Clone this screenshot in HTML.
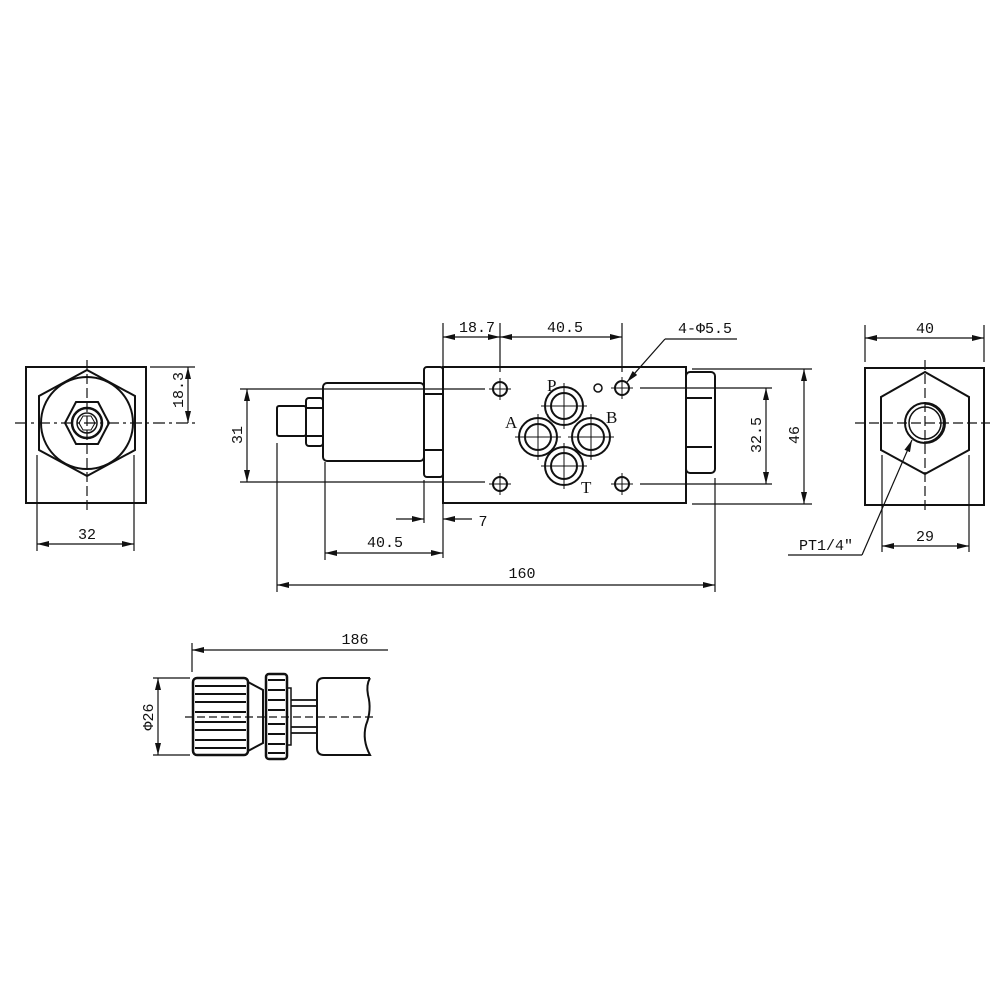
<!DOCTYPE html>
<html><head><meta charset="utf-8"><style>
html,body{margin:0;padding:0;background:#fff}
svg{display:block}
text{font-family:"Liberation Mono","DejaVu Sans Mono",monospace;font-size:15px;fill:#111}
</style></head><body>
<svg width="1000" height="1000" viewBox="0 0 1000 1000" xmlns="http://www.w3.org/2000/svg">
<defs>
<marker id="a" viewBox="0 0 12 6" refX="12" refY="3" markerWidth="12" markerHeight="6" orient="auto-start-reverse" markerUnits="userSpaceOnUse"><path d="M0,0L12,3L0,6z" fill="#111"/></marker>
</defs>
<g fill="none" stroke="#111" stroke-width="1.2">
<!-- LEFT VIEW -->
<rect x="26" y="367" width="120" height="136" stroke-width="2"/>
<polygon points="87,370 135,396 135,450 87,476 39,450 39,396" stroke-width="2"/>
<circle cx="87" cy="423" r="46" stroke-width="2"/>
<polygon points="76,402 98,402 109,423 98,444 76,444 65,423" stroke-width="2"/>
<circle cx="87" cy="423" r="15" stroke-width="2.5"/>
<circle cx="87" cy="423" r="10" stroke-width="1.5"/>
<polygon points="83,416 91,416 95,423 91,430 83,430 79,423" stroke-width="1"/>
<line x1="15" y1="423" x2="195" y2="423" stroke-dasharray="12,4,3,4"/>
<line x1="87" y1="360" x2="87" y2="510" stroke-dasharray="10,4"/>
<line x1="150" y1="367" x2="195" y2="367"/>
<line x1="188" y1="367" x2="188" y2="423" marker-start="url(#a)" marker-end="url(#a)"/>
<line x1="37" y1="455" x2="37" y2="551"/><line x1="134" y1="455" x2="134" y2="551"/>
<line x1="37" y1="544" x2="134" y2="544" marker-start="url(#a)" marker-end="url(#a)"/>

<!-- MAIN VIEW -->
<rect x="443" y="367" width="243" height="136" stroke-width="2"/>
<rect x="424" y="367" width="19" height="110" rx="3" stroke-width="2"/>
<line x1="424" y1="394" x2="443" y2="394" stroke-width="2"/><line x1="424" y1="450" x2="443" y2="450" stroke-width="2"/>
<rect x="323" y="383" width="101" height="78" rx="4" stroke-width="2"/>
<rect x="306" y="398" width="17" height="48" rx="3" stroke-width="2"/>
<line x1="306" y1="408" x2="323" y2="408" stroke-width="2"/><line x1="306" y1="436" x2="323" y2="436" stroke-width="2"/>
<rect x="277" y="406" width="29" height="30" rx="2" stroke-width="2"/>
<rect x="686" y="372" width="29" height="101" rx="4" stroke-width="2"/>
<line x1="686" y1="398" x2="712" y2="398" stroke-width="2"/><line x1="686" y1="447" x2="712" y2="447" stroke-width="2"/>
<!-- holes -->
<g stroke-width="2">
<circle cx="500" cy="389" r="7"/><circle cx="622" cy="388" r="7"/>
<circle cx="500" cy="484" r="7"/><circle cx="622" cy="484" r="7"/>
<circle cx="598" cy="388" r="4" stroke-width="1.5"/>
<circle cx="564" cy="406" r="19"/><circle cx="564" cy="406" r="13"/>
<circle cx="538" cy="437" r="19"/><circle cx="538" cy="437" r="13"/>
<circle cx="591" cy="437" r="19"/><circle cx="591" cy="437" r="13"/>
<circle cx="564" cy="466" r="19"/><circle cx="564" cy="466" r="13"/>
</g>
<g stroke-width="1">
<path d="M489,389h22M500,378v22M611,388h22M622,377v22M489,484h22M500,473v22M611,484h22M622,473v22"/>
<path d="M541,406h46M564,383v46M515,437h46M538,414v46M568,437h46M591,414v46M541,466h46M564,443v46"/>
</g>
<!-- dims -->
<line x1="443" y1="323" x2="443" y2="367"/><line x1="500" y1="323" x2="500" y2="372"/><line x1="622" y1="323" x2="622" y2="372"/>
<line x1="443" y1="337" x2="500" y2="337" marker-start="url(#a)" marker-end="url(#a)"/>
<line x1="500" y1="337" x2="622" y2="337" marker-start="url(#a)" marker-end="url(#a)"/>
<line x1="737" y1="339" x2="665" y2="339"/>
<line x1="665" y1="339" x2="627" y2="382" marker-end="url(#a)"/>
<line x1="240" y1="389" x2="485" y2="389"/><line x1="240" y1="482" x2="485" y2="482"/>
<line x1="247" y1="389" x2="247" y2="482" marker-start="url(#a)" marker-end="url(#a)"/>
<line x1="640" y1="388" x2="772" y2="388"/><line x1="640" y1="484" x2="772" y2="484"/>
<line x1="766" y1="388" x2="766" y2="484" marker-start="url(#a)" marker-end="url(#a)"/>
<line x1="692" y1="369" x2="812" y2="369"/><line x1="692" y1="504" x2="812" y2="504"/>
<line x1="804" y1="369" x2="804" y2="504" marker-start="url(#a)" marker-end="url(#a)"/>
<line x1="424" y1="480" x2="424" y2="523"/><line x1="443" y1="503" x2="443" y2="558"/>
<line x1="396" y1="519" x2="424" y2="519" marker-end="url(#a)"/>
<line x1="472" y1="519" x2="443" y2="519" marker-end="url(#a)"/>
<line x1="325" y1="462" x2="325" y2="560"/>
<line x1="325" y1="553" x2="443" y2="553" marker-start="url(#a)" marker-end="url(#a)"/>
<line x1="277" y1="443" x2="277" y2="592"/><line x1="715" y1="478" x2="715" y2="592"/>
<line x1="277" y1="585" x2="715" y2="585" marker-start="url(#a)" marker-end="url(#a)"/>

<!-- RIGHT VIEW -->
<rect x="865" y="368" width="119" height="137" stroke-width="2"/>
<polygon points="925,372 969,397 969,450 925,474 881,450 881,397" stroke-width="2"/>
<circle cx="925" cy="423" r="20" stroke-width="2"/>
<path d="M925,404 A19,19 0 1,1 924,442" stroke-width="1.3" transform="translate(0,0)"/>
<circle cx="925" cy="423" r="16" stroke-width="1.5"/>
<line x1="855" y1="423" x2="990" y2="423" stroke-dasharray="10,4"/>
<line x1="925" y1="360" x2="925" y2="510" stroke-dasharray="10,4"/>
<line x1="865" y1="325" x2="865" y2="362"/><line x1="984" y1="325" x2="984" y2="362"/>
<line x1="865" y1="338" x2="984" y2="338" marker-start="url(#a)" marker-end="url(#a)"/>
<line x1="882" y1="455" x2="882" y2="552"/><line x1="969" y1="455" x2="969" y2="552"/>
<line x1="882" y1="546" x2="969" y2="546" marker-start="url(#a)" marker-end="url(#a)"/>
<line x1="788" y1="555" x2="862" y2="555"/>
<line x1="862" y1="555" x2="912" y2="440" marker-end="url(#a)"/>

<!-- BOTTOM VIEW -->
<rect x="193" y="678" width="55" height="77" rx="4" stroke-width="2.5"/>
<g stroke-width="2">
<path d="M195,686h51M195,694h51M195,702h51M195,712h51M195,722h51M195,730h51M195,740h51M195,748h51"/>
</g>
<path d="M248,682 L263,690 L263,743 L248,751" stroke-width="2"/>
<rect x="266" y="674" width="21" height="85" rx="3" stroke-width="2.5"/>
<path d="M268,680h17M268,690h17M268,700h17M268,710h17M268,724h17M268,734h17M268,744h17M268,753h17" stroke-width="2"/>
<rect x="287" y="688" width="4" height="57" stroke-width="1.5"/>
<path d="M291,700h27M291,706h27M291,727h27M291,733h27" stroke-width="1.8"/>
<path d="M370,678 H324 Q317,678 317,685 V748 Q317,755 324,755 H370 Q362,740 366,725 Q372,710 368,695 Q366,685 370,678" stroke-width="2"/>
<line x1="185" y1="717" x2="376" y2="717" stroke-dasharray="8,4"/>
<line x1="192" y1="643" x2="192" y2="672"/>
<line x1="388" y1="650" x2="192" y2="650" marker-end="url(#a)"/>
<line x1="153" y1="678" x2="190" y2="678"/><line x1="153" y1="755" x2="190" y2="755"/>
<line x1="158" y1="678" x2="158" y2="755" marker-start="url(#a)" marker-end="url(#a)"/>
</g>
<g>
<text x="183" y="390" text-anchor="middle" transform="rotate(-90 183 390)">18.3</text>
<text x="87" y="539" text-anchor="middle">32</text>
<text x="477" y="332" text-anchor="middle">18.7</text>
<text x="565" y="332" text-anchor="middle">40.5</text>
<text x="705" y="333" text-anchor="middle">4-Φ5.5</text>
<text x="242" y="435" text-anchor="middle" transform="rotate(-90 242 435)">31</text>
<text x="761" y="435" text-anchor="middle" transform="rotate(-90 761 435)">32.5</text>
<text x="799" y="435" text-anchor="middle" transform="rotate(-90 799 435)">46</text>
<text x="483" y="526" text-anchor="middle">7</text>
<text x="385" y="547" text-anchor="middle">40.5</text>
<text x="522" y="578" text-anchor="middle">160</text>
<text x="925" y="333" text-anchor="middle">40</text>
<text x="925" y="541" text-anchor="middle">29</text>
<text x="826" y="550" text-anchor="middle">PT1/4″</text>
<text x="355" y="644" text-anchor="middle">186</text>
<text x="153" y="717" text-anchor="middle" transform="rotate(-90 153 717)">Φ26</text>
<text x="547" y="391" style="font-family:'Liberation Serif',serif;font-size:17px">P</text>
<text x="505" y="428" style="font-family:'Liberation Serif',serif;font-size:17px">A</text>
<text x="606" y="423" style="font-family:'Liberation Serif',serif;font-size:17px">B</text>
<text x="581" y="493" style="font-family:'Liberation Serif',serif;font-size:17px">T</text>
</g>
</svg>
</body></html>
